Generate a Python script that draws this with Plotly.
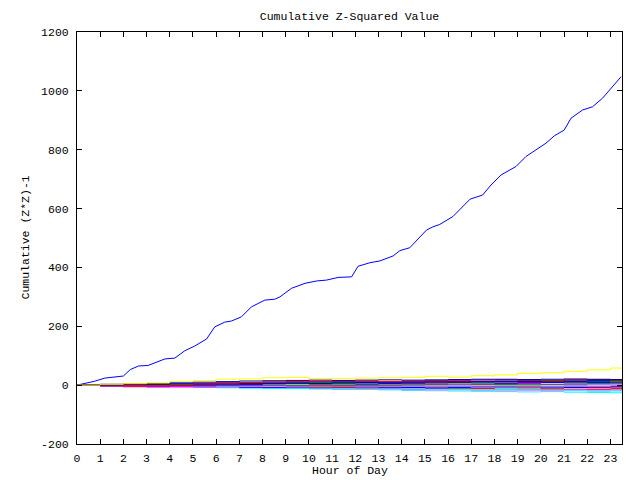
import plotly.graph_objects as go

# ---------------- data ----------------
hours = [0, 1, 2, 3, 4, 5, 6, 7, 8, 9, 10, 11, 12, 13, 14, 15, 16, 17, 18, 19, 20, 21, 22, 23, 23.5]
x_ticks = list(range(0, 24))
y_ticks = [-200, 0, 200, 400, 600, 800, 1000, 1200]

main_hours = [0, 0.4, 0.75, 1.2, 1.63, 2.0, 2.3, 2.65, 3.07, 3.43, 3.79, 4.22, 4.65, 5.08, 5.59,
              5.94, 6.37, 6.66, 7.09, 7.52, 8.1, 8.53, 8.75, 9.25, 9.83, 10.33, 10.76, 11.26,
              11.84, 12.12, 12.63, 13.06, 13.63, 13.92, 14.35, 15.07, 15.35, 15.64, 16.21,
              16.95, 17.49, 17.85, 18.28, 18.93, 19.36, 20.22, 20.58, 21.01, 21.3, 21.8,
              22.23, 22.66, 23.03, 23.46]
main_values = [0, 6, 13, 24, 28, 31, 53, 65, 67, 79, 89, 92, 117, 133, 157,
               198, 214, 218, 232, 266, 289, 292, 300, 329, 346, 354, 357, 366,
               368, 404, 416, 422, 439, 457, 467, 527, 538, 546, 573,
               632, 646, 680, 714, 743, 777, 822, 847, 867, 907, 935,
               946, 975, 1009, 1048]

s_navy = [0, 3, 5, 4, 8, 10, 12, 14, 15, 16, 17, 16, 17, 18, 17, 18, 19, 20, 20, 19, 20, 21, 20, 19, 18]
s_blue = [0, -2, 1, 3, 5, 6, 8, 9, 10, 11, 12, 12, 13, 11, 12, 14, 13, 12, 14, 15, 16, 17, 15, 16, 17]
s_red = [0, 1, -1, 0, 2, 4, 7, 9, 11, 12, 13, 14, 13, 12, 14, 15, 16, 17, 18, 17, 16, 18, 19, 17, 16]
s_green = [0, -1, -2, -1, 0, 2, 3, 5, 6, 8, 9, 10, 9, 10, 11, 12, 11, 13, 12, 14, 13, 12, 13, 14, 12]
s_red2 = [0, -2, -4, -3, -1, 1, 3, 4, 5, 6, 5, 7, 8, 6, 5, 7, 8, 9, 10, 8, 9, 11, 12, 10, 9]
s_blue2 = [0, 0, -1, -2, -1, 0, 1, 2, 4, 5, 6, 5, 4, 6, 7, 8, 9, 7, 6, 8, 9, 10, 9, 8, 10]
s_magenta = [0, -3, -5, -6, -4, -3, -2, -1, 0, 1, 2, 1, 0, -1, 1, 2, 3, 2, 4, 5, 3, 4, 6, 5, 4]
s_purple = [0, -1, -2, -4, -3, -2, -1, 0, -2, -1, 0, 1, 2, 0, -1, 1, 0, 2, 1, 3, 2, 1, 3, 4, 2]
s_pink = [0, -4, -6, -7, -8, -6, -5, -4, -5, -3, -4, -2, -3, -4, -2, -1, -3, -2, -1, 0, -2, -1, 0, 1, -1]
s_cyan = [0, -2, -3, -5, -7, -8, -9, -10, -11, -12, -10, -11, -12, -13, -12, -14, -15, -16, -15, -14, -16, -17, -18, -17, -16]
s_cyan2 = [0, -1, -2, -3, -4, -5, -7, -9, -10, -11, -13, -14, -15, -16, -18, -19, -20, -21, -22, -23, -22, -24, -25, -26, -27]
s_red3 = [0, 1, 0, -1, -2, -3, -4, -5, -4, -6, -7, -8, -9, -8, -7, -9, -10, -11, -9, -10, -12, -11, -13, -12, -10]
s_green2 = [0, 0, 1, 2, 1, 3, 2, 1, 0, -1, -2, -1, 0, 1, 2, 3, 4, 3, 2, 1, 3, 4, 5, 6, 5]
s_blue3 = [0, -1, -3, -4, -5, -6, -5, -7, -8, -6, -5, -4, -6, -7, -8, -9, -8, -7, -6, -5, -7, -8, -6, -5, -4]
s_magenta2 = [0, -2, -1, -3, -2, -4, -6, -8, -9, -10, -11, -12, -10, -11, -13, -12, -14, -13, -15, -14, -16, -15, -14, -13, -15]
s_pink2 = [0, -3, -4, -5, -6, -7, -8, -7, -9, -10, -12, -13, -14, -15, -16, -17, -16, -18, -19, -18, -20, -19, -21, -20, -22]
s_navy2 = [0, 1, 2, 3, 2, 3, 4, 5, 6, 7, 6, 8, 9, 8, 10, 11, 10, 12, 13, 12, 14, 13, 15, 16, 15]
s_purple2 = [0, -1, 0, 1, 0, -1, -2, -3, -1, -2, -3, -4, -3, -5, -4, -6, -5, -7, -6, -4, -5, -3, -4, -2, -3]
s_white = [0, 1, 0, 2, 3, 2, 4, 5, 3, 4, 6, 5, 7, 6, 5, 7, 8, 6, 7, 9, 8, 10, 9, 8, 7]
s_white2 = [0, -1, -2, -1, -3, -4, -3, -2, -4, -5, -3, -4, -6, -5, -7, -6, -5, -8, -7, -9, -8, -10, -9, -8, -9]
s_red4 = [0, -1, -3, -2, -4, -5, -3, -2, -1, -3, -4, -6, -5, -7, -8, -6, -5, -4, -6, -7, -5, -6, -8, -7, -9]
s_green3 = [0, 1, 2, 1, 3, 4, 5, 6, 7, 8, 7, 6, 8, 9, 10, 11, 10, 9, 11, 12, 13, 14, 13, 12, 14]
s_cyan3 = [0, -1, -1, -2, -3, -4, -5, -6, -7, -6, -8, -9, -10, -11, -10, -9, -11, -12, -13, -14, -15, -14, -16, -17, -18]
s_yellow = [0, 3, 5, 8, 12, 16, 20, 21, 25, 26, 23, 23, 24, 25, 26, 30, 27, 32, 35, 40, 42, 47, 52, 58, 56]

small_series = [
    (s_cyan2, "#00ffff"), (s_pink2, "#ff80ff"), (s_cyan3, "#00ffff"), (s_magenta2, "#ff00ff"),
    (s_cyan, "#00ffff"), (s_red3, "#ff0000"), (s_white2, "#ffffff"), (s_red4, "#ff0000"),
    (s_blue3, "#0000ff"), (s_pink, "#ff80ff"), (s_purple2, "#8080ff"), (s_purple, "#8080ff"),
    (s_magenta, "#ff00ff"), (s_green2, "#009900"), (s_white, "#ffffff"), (s_red2, "#ff0000"),
    (s_blue2, "#0000ff"), (s_green, "#009900"), (s_green3, "#009900"), (s_navy2, "#0000a0"),
    (s_blue, "#0000ff"), (s_red, "#ff0000"), (s_navy, "#0000a0"), (s_yellow, "#ffff00"),
]

# ---------------- figure ----------------
fig = go.Figure()
fig.add_trace(go.Scatter(x=main_hours, y=main_values, mode="lines",
                         line=dict(color="#0000ff", width=1), showlegend=False))
for vals, col in small_series:
    fig.add_trace(go.Scatter(x=hours, y=vals, mode="lines",
                             line=dict(color=col, width=1, shape="hv"), showlegend=False))

font_name = "Liberation Mono"
fig.update_layout(
    width=640, height=480,
    margin=dict(l=77, r=18, t=32, b=36),
    paper_bgcolor="white", plot_bgcolor="white",
    font=dict(family=font_name, size=11.5, color="black"),
    title=dict(text="Cumulative Z-Squared Value", x=0.5, xref="paper",
               y=1 - 16 / 480, yref="container", yanchor="middle",
               font=dict(family=font_name, size=11.5, color="black")),
    showlegend=False,
)
fig.update_xaxes(range=[0, 23.5], tickvals=x_ticks, ticktext=[str(t) for t in x_ticks],
                 ticks="inside", ticklen=5, tickcolor="black", showline=True,
                 linecolor="black", linewidth=1, mirror="ticks", showgrid=False,
                 zeroline=False, ticklabelstandoff=3,
                 tickfont=dict(family=font_name, size=11.5))
fig.update_yaxes(range=[-200, 1200], tickvals=y_ticks, ticktext=[str(t) for t in y_ticks],
                 ticks="inside", ticklen=5, tickcolor="black", showline=True,
                 linecolor="black", linewidth=1, mirror="ticks", showgrid=False,
                 zeroline=False, ticklabelstandoff=5,
                 tickfont=dict(family=font_name, size=11.5))
fig.add_annotation(text="Hour of Day", xref="paper", yref="paper", x=0.5,
                   y=-(470 - 444) / 412, yanchor="middle", showarrow=False,
                   font=dict(family=font_name, size=11.5, color="black"))
fig.add_annotation(text="Cumulative (Z*Z)-1", xref="paper", yref="paper",
                   x=-(77.5 - 25) / 545, y=0.5, xanchor="center", yanchor="middle",
                   textangle=-90, showarrow=False,
                   font=dict(family=font_name, size=11.5, color="black"))

fig.write_html("out.html")
